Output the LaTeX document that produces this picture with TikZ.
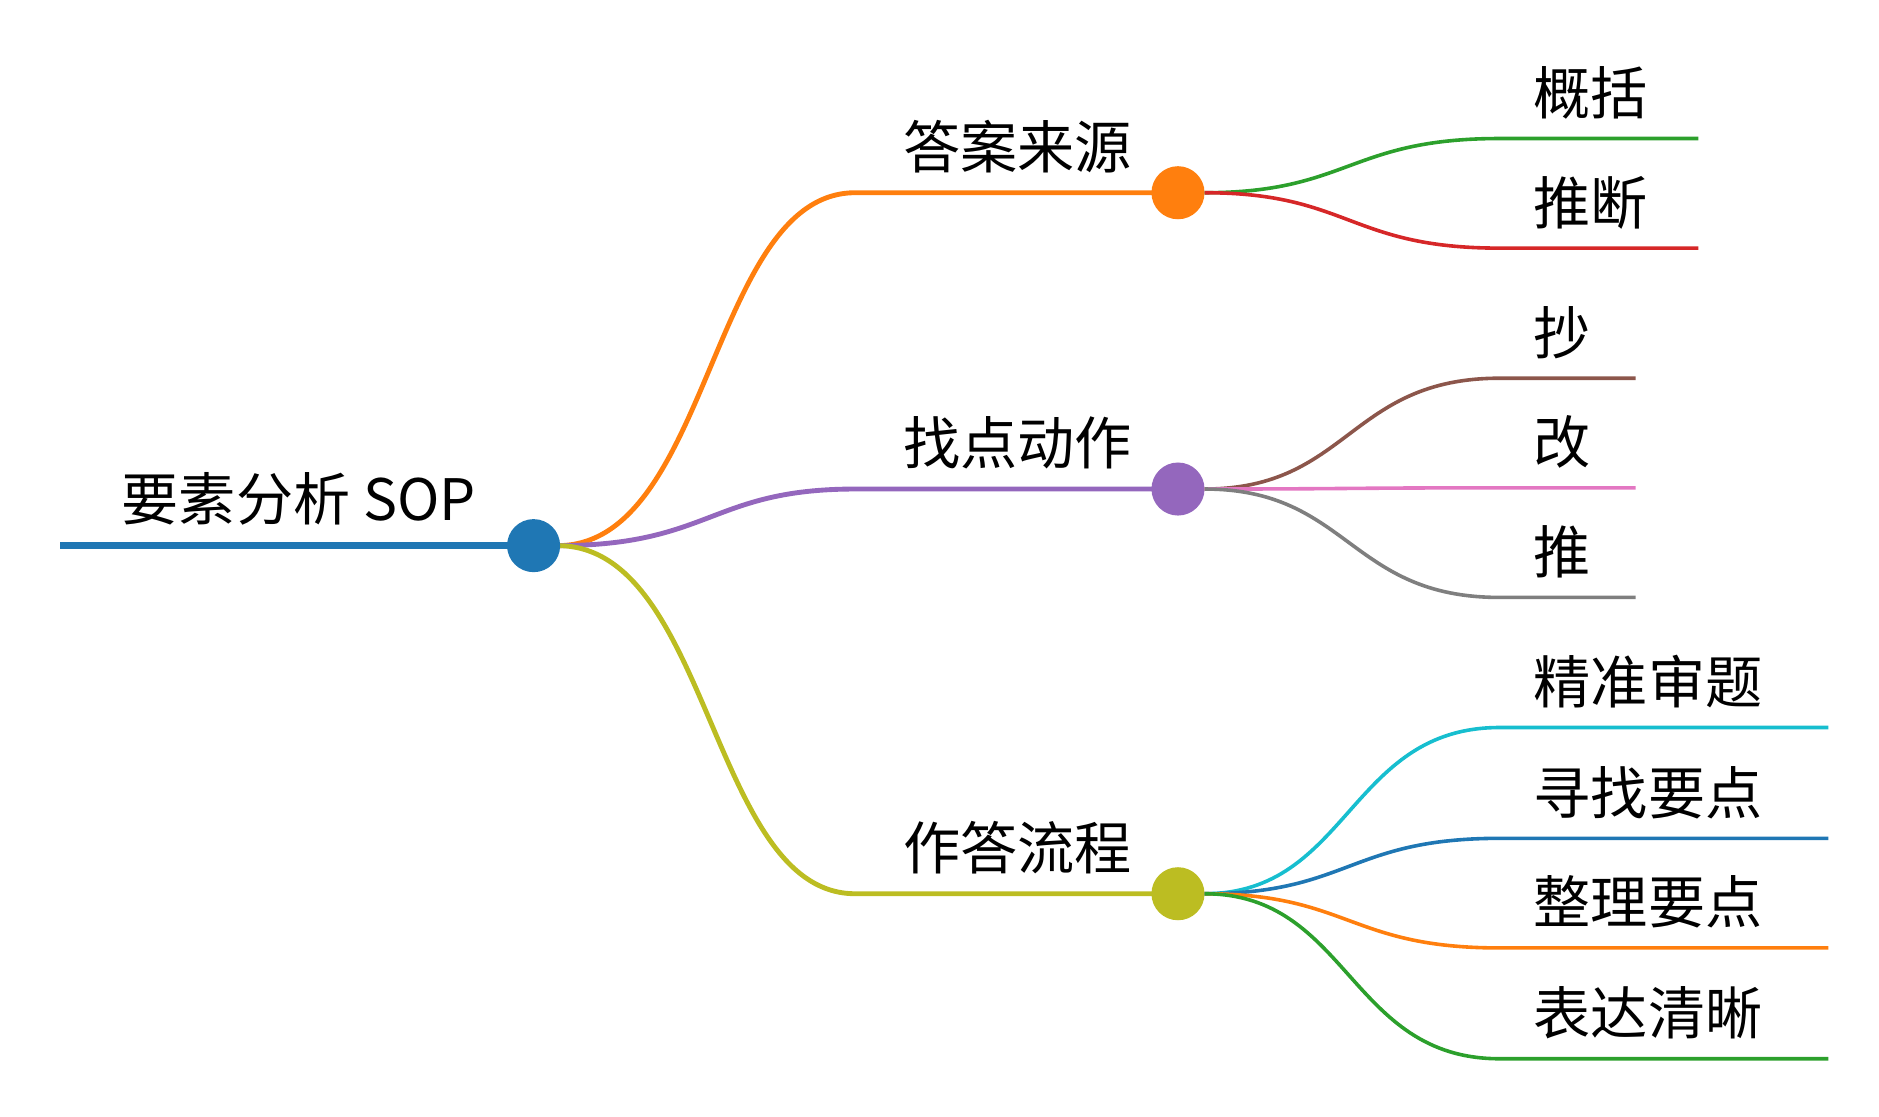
\documentclass[tikz,border=0pt]{standalone}
\usepackage{fontspec}
\setmainfont{Noto Sans CJK SC}
\definecolor{cblue}{HTML}{1F77B4}
\definecolor{corange}{HTML}{FF7F0E}
\definecolor{cgreen}{HTML}{2CA02C}
\definecolor{cred}{HTML}{D62728}
\definecolor{cpurple}{HTML}{9467BD}
\definecolor{cbrown}{HTML}{8C564B}
\definecolor{cpink}{HTML}{E377C2}
\definecolor{cgrey}{HTML}{7F7F7F}
\definecolor{colive}{HTML}{BCBD22}
\definecolor{ccyan}{HTML}{17BECF}
\tikzset{
  knot/.style={circle, draw, line width=2.3pt, minimum size=0.8cm, inner sep=0pt, fill=white},
  lbl/.style={font=\fontsize{27}{30}\selectfont, inner sep=0pt, anchor=base},
  leaf/.style={font=\fontsize{27}{30}\selectfont, inner sep=0pt, anchor=base west},
  branch/.style={line width=2.3pt},
  twig/.style={line width=1.7pt}
}
\begin{document}
\begin{tikzpicture}[x=0.02cm, y=-0.02cm]
    \useasboundingbox (0,0) rectangle (1560,927);

    % root
    \coordinate (r0) at (50,453);
    \draw[cblue, line width=3.4pt] (r0) -- (423,453);
    \node[lbl] (root) at (248,432) {要素分析 SOP};

    % level 1
    \coordinate (a0) at (710,160);
    \coordinate (b0) at (710,406);
    \coordinate (c0) at (710,742);
    \node[lbl] (atext) at (845,140) {答案来源};
    \node[lbl] (btext) at (845,386) {找点动作};
    \node[lbl] (ctext) at (845,722) {作答流程};

    \draw[branch, corange] (463,453) .. controls (590,453) and (590,160) .. (a0) -- (958,160);
    \draw[branch, cpurple] (463,453) .. controls (590,453) and (590,406) .. (b0) -- (958,406);
    \draw[branch, colive] (463,453) .. controls (590,453) and (590,742) .. (c0) -- (958,742);

    \node[knot, cblue] (root) at (443,453) {};
    \node[knot, corange] (a) at (978,160) {};
    \node[knot, cpurple] (b) at (978,406) {};
    \node[knot, colive] (c) at (978,742) {};

    % leaves
    \coordinate (a1) at (1245,115);
    \coordinate (a2) at (1245,206);
    \draw[twig, cgreen] (a.east) .. controls (1120,160) and (1120,115) .. (a1) -- (1410,115);
    \draw[twig, cred] (a.east) .. controls (1120,160) and (1120,206) .. (a2) -- (1410,206);
    \node[leaf] (a1text) at (1273,95) {概括};
    \node[leaf] (a2text) at (1273,186) {推断};

    \coordinate (b1) at (1245,314);
    \coordinate (b2) at (1245,405);
    \coordinate (b3) at (1245,496);
    \draw[twig, cbrown] (b.east) .. controls (1120,406) and (1120,314) .. (b1) -- (1358,314);
    \draw[twig, cpink] (b.east) .. controls (1120,406) and (1120,405) .. (b2) -- (1358,405);
    \draw[twig, cgrey] (b.east) .. controls (1120,406) and (1120,496) .. (b3) -- (1358,496);
    \node[leaf] (b1text) at (1273,294) {抄};
    \node[leaf] (b2text) at (1273,385) {改};
    \node[leaf] (b3text) at (1273,476) {推};

    \coordinate (c1) at (1245,604);
    \coordinate (c2) at (1245,696);
    \coordinate (c3) at (1245,787);
    \coordinate (c4) at (1245,879);
    \draw[twig, ccyan] (c.east) .. controls (1120,742) and (1120,604) .. (c1) -- (1518,604);
    \draw[twig, cblue] (c.east) .. controls (1120,742) and (1120,696) .. (c2) -- (1518,696);
    \draw[twig, corange] (c.east) .. controls (1120,742) and (1120,787) .. (c3) -- (1518,787);
    \draw[twig, cgreen] (c.east) .. controls (1120,742) and (1120,879) .. (c4) -- (1518,879);
    \node[leaf] (c1text) at (1273,584) {精准审题};
    \node[leaf] (c2text) at (1273,676) {寻找要点};
    \node[leaf] (c3text) at (1273,767) {整理要点};
    \node[leaf] (c4text) at (1273,859) {表达清晰};
\end{tikzpicture}
\end{document}
